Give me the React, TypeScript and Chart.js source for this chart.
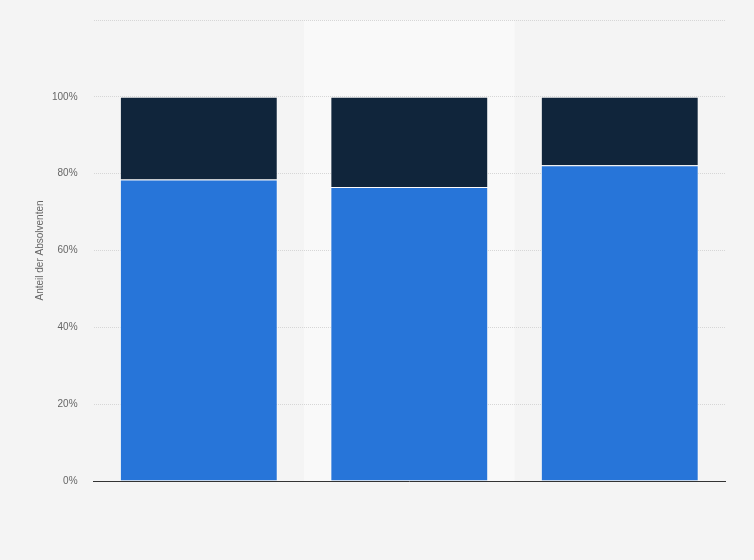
import { useEffect, useRef } from "react"
import { Chart, registerables } from "chart.js"

Chart.register(...registerables)

const kategorien = ["Gruppe 1", "Gruppe 2", "Gruppe 3"]
const anteilJa = [78.5, 76.5, 82.2]
const anteilNein = [21.5, 23.5, 17.8]
const hervorgehoben = 1

// light band behind the hovered category
const bandPlugin = {
  id: "band",
  beforeDraw(chart: Chart) {
    const { ctx, chartArea, scales } = chart
    const x = scales.x
    const w = (chartArea.right - chartArea.left) / kategorien.length
    const cx = x.getPixelForValue(hervorgehoben)
    ctx.save()
    ctx.fillStyle = "#f9f9f9"
    ctx.fillRect(cx - w / 2, chartArea.top, w, chartArea.bottom - chartArea.top)
    ctx.restore()
  },
}

export default function App() {
  const chartRef = useRef<HTMLCanvasElement | null>(null)
  const chartInstance = useRef<Chart | null>(null)

  useEffect(() => {
    document.body.style.margin = "0"
    document.body.style.background = "#f4f4f4"
    if (!chartRef.current) return
    if (chartInstance.current) chartInstance.current.destroy()
    const ctx = chartRef.current.getContext("2d")
    if (!ctx) return

    chartInstance.current = new Chart(ctx, {
      type: "bar",
      data: {
        labels: kategorien,
        datasets: [
          {
            label: "Ja",
            data: anteilJa,
            backgroundColor: "#2775d9",
            borderColor: "rgba(255,255,255,0.6)",
            borderWidth: 1,
          },
          {
            label: "Nein",
            data: anteilNein,
            backgroundColor: "#10253b",
            borderColor: "rgba(255,255,255,0.35)",
            borderWidth: 1,
          },
        ],
      },
      options: {
        animation: false,
        responsive: false,
        maintainAspectRatio: false,
        layout: { padding: { left: 34, right: 29, top: 10, bottom: 71 } },
        datasets: { bar: { categoryPercentage: 1, barPercentage: 0.75 } },
        plugins: {
          legend: { display: false },
          tooltip: { enabled: false },
        },
        scales: {
          x: {
            stacked: true,
            grid: { display: false },
            ticks: { display: false },
            border: { display: true, color: "#333", width: 1 },
          },
          y: {
            stacked: true,
            min: 0,
            max: 120,
            ticks: {
              stepSize: 20,
              padding: 16,
              color: "#666",
              font: { family: "Liberation Sans, Arial, sans-serif", size: 10 },
              callback: (v) => (Number(v) > 100 ? "" : v + "%"),
            },
            grid: {
              drawTicks: false,
              color: (c) => (c.tick && c.tick.value === 0 ? "rgba(0,0,0,0)" : "#d6d6d6"),
            },
            border: { display: false, dash: [1, 1] },
            title: {
              display: true,
              text: "Anteil der Absolventen",
              color: "#666",
              font: { family: "Liberation Sans, Arial, sans-serif", size: 10 },
              padding: { top: 0, bottom: -10 },
            },
          },
        },
      },
      plugins: [bandPlugin],
    })

    return () => {
      if (chartInstance.current) {
        chartInstance.current.destroy()
        chartInstance.current = null
      }
    }
  }, [])

  return (
    <div style={{ width: 754, height: 560, background: "#f4f4f4", overflow: "hidden" }}>
      <canvas
        ref={chartRef}
        width={754}
        height={562}
        style={{ width: 754, height: 562, marginTop: -2, display: "block" }}
      />
    </div>
  )
}
